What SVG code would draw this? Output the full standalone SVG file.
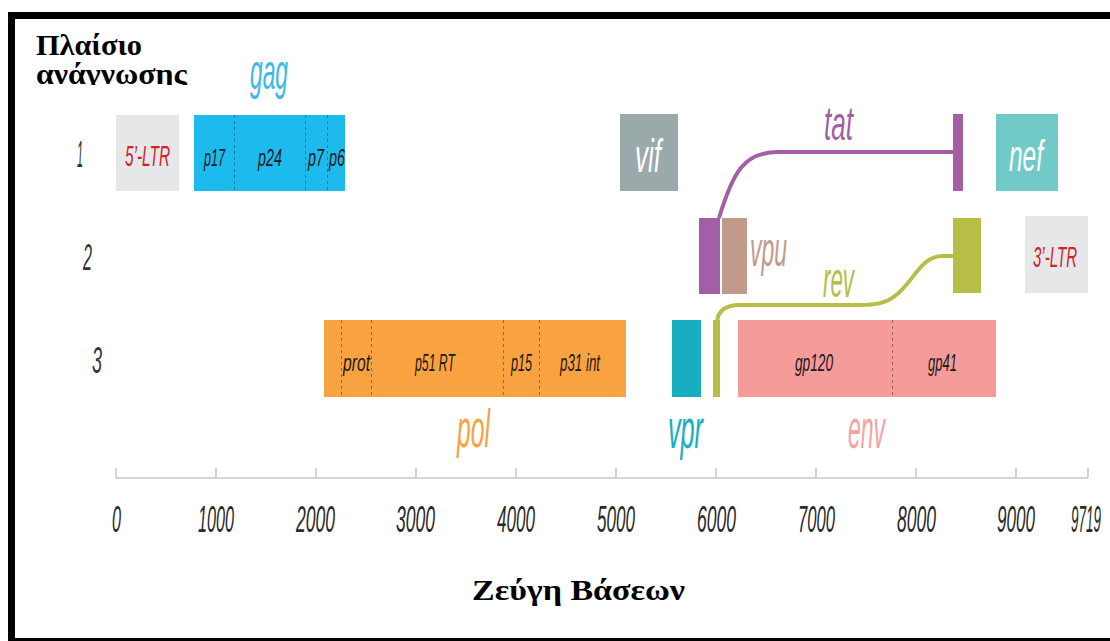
<svg xmlns="http://www.w3.org/2000/svg" width="1110" height="641" viewBox="0 0 1110 641">
<style>
.s{font-family:"Liberation Sans",Arial,sans-serif;font-style:italic}
.t{font-family:"Liberation Serif","Times New Roman",serif;font-weight:bold;fill:#000}
.tick{font-size:37px;fill:#2a2a2a}
.row{font-size:36px;fill:#333}
.sub{font-size:24px;fill:#1a1a1a}
.ltr{font-size:30px;fill:#d2232a}
.dash{stroke:#000;stroke-opacity:0.35;stroke-width:1;stroke-dasharray:3 3}
.ax{stroke:#c8c8c8;stroke-width:1.6;fill:none}
</style>
<defs>
<clipPath id="tc"><rect x="15" y="19" width="300" height="66"/></clipPath>
</defs>
<rect width="1110" height="641" fill="#fff"/>
<rect x="11.5" y="15.5" width="1110" height="626" fill="none" stroke="#000" stroke-width="7"/>
<g id="title" clip-path="url(#tc)">
<text class="t" x="36" y="55" font-size="30" textLength="106" lengthAdjust="spacingAndGlyphs">Πλαίσιο</text>
<text class="t" x="36" y="83.5" font-size="30" textLength="151" lengthAdjust="spacingAndGlyphs">ανάγνωσης</text>
</g>
<g id="rows" class="s row">
<text x="77" y="167" textLength="6" lengthAdjust="spacingAndGlyphs">1</text>
<text x="83" y="270" textLength="9" lengthAdjust="spacingAndGlyphs">2</text>
<text x="92" y="373" textLength="10" lengthAdjust="spacingAndGlyphs">3</text>
</g>
<g id="ltr5">
<rect x="116" y="115" width="63" height="76" fill="#e6e7e8"/>
<text class="s ltr" x="125" y="166" font-size="33" textLength="45" lengthAdjust="spacingAndGlyphs">5’-LTR</text>
</g>
<g id="gag">
<rect x="194" y="115" width="151" height="76" fill="#1dbaed"/>
<line class="dash" x1="234.5" y1="115" x2="234.5" y2="191"/>
<line class="dash" x1="305.5" y1="115" x2="305.5" y2="191"/>
<line class="dash" x1="327.5" y1="115" x2="327.5" y2="191"/>
<g class="s sub">
<text x="204" y="166" textLength="21" lengthAdjust="spacingAndGlyphs">p17</text>
<text x="258" y="166" textLength="24" lengthAdjust="spacingAndGlyphs">p24</text>
<text x="308" y="166" textLength="16" lengthAdjust="spacingAndGlyphs">p7</text>
<text x="329" y="166" textLength="16" lengthAdjust="spacingAndGlyphs">p6</text>
</g>
<text class="s" x="250" y="89" font-size="50" fill="#3bb9ea" textLength="38" lengthAdjust="spacingAndGlyphs">gag</text>
</g>
<g id="vif">
<rect x="620" y="114" width="58" height="77" fill="#9aa9aa"/>
<text class="s" x="635" y="172" font-size="46" fill="#fff" textLength="26" lengthAdjust="spacingAndGlyphs">vif</text>
</g>
<g id="nef">
<rect x="996" y="114" width="62" height="77" fill="#72cac8"/>
<text class="s" x="1009" y="171" font-size="44" fill="#fff" textLength="34" lengthAdjust="spacingAndGlyphs">nef</text>
</g>
<g id="tat">
<rect x="699" y="218" width="21" height="76" fill="#a35fa6"/>
<rect x="953" y="114" width="10" height="77" fill="#a35fa6"/>
<text class="s" x="824" y="140" font-size="48" fill="#a35fa6" textLength="29" lengthAdjust="spacingAndGlyphs">tat</text>
</g>
<g id="vpu">
<rect x="722" y="218" width="25" height="76" fill="#c29a8b"/>
<text class="s" x="750" y="266" font-size="48" fill="#c29a8b" textLength="37" lengthAdjust="spacingAndGlyphs">vpu</text>
</g>
<g id="rev">
<rect x="953" y="218" width="28" height="75" fill="#b6be45"/>
<rect x="713" y="320" width="7" height="77" fill="#b6be45"/>
<text class="s" x="823" y="297" font-size="50" fill="#b6be45" textLength="31" lengthAdjust="spacingAndGlyphs">rev</text>
</g>
<g id="ltr3">
<rect x="1025" y="216" width="63" height="77" fill="#e6e7e8"/>
<text class="s ltr" x="1033" y="267" textLength="44" lengthAdjust="spacingAndGlyphs">3’-LTR</text>
</g>
<g id="pol">
<rect x="324" y="320" width="302" height="77" fill="#f9a241"/>
<line class="dash" x1="341.5" y1="320" x2="341.5" y2="397"/>
<line class="dash" x1="371.5" y1="320" x2="371.5" y2="397"/>
<line class="dash" x1="503.5" y1="320" x2="503.5" y2="397"/>
<line class="dash" x1="539.5" y1="320" x2="539.5" y2="397"/>
<g class="s sub">
<text x="343" y="371" textLength="27" lengthAdjust="spacingAndGlyphs">prot</text>
<text x="415" y="371" textLength="40" lengthAdjust="spacingAndGlyphs">p51 RT</text>
<text x="511" y="371" textLength="21" lengthAdjust="spacingAndGlyphs">p15</text>
<text x="560" y="371" textLength="40" lengthAdjust="spacingAndGlyphs">p31 int</text>
</g>
<text class="s" x="457" y="447" font-size="54" fill="#f9a241" textLength="33" lengthAdjust="spacingAndGlyphs">pol</text>
</g>
<g id="vpr">
<rect x="672" y="320" width="29" height="77" fill="#15afbf"/>
<text class="s" x="668" y="448" font-size="56" fill="#15afbf" textLength="35" lengthAdjust="spacingAndGlyphs">vpr</text>
</g>
<g id="env">
<rect x="738" y="320" width="258" height="77" fill="#f59c9a"/>
<line class="dash" x1="892.5" y1="320" x2="892.5" y2="397"/>
<g class="s sub">
<text x="795" y="371" textLength="38" lengthAdjust="spacingAndGlyphs">gp120</text>
<text x="928" y="371" textLength="29" lengthAdjust="spacingAndGlyphs">gp41</text>
</g>
<text class="s" x="848" y="448" font-size="56" fill="#f5a3a2" textLength="37" lengthAdjust="spacingAndGlyphs">env</text>
</g>
<g id="connectors" fill="none" stroke-width="4">
<path d="M719 218 C733 172 744 152 778 152 H955" stroke="#a35fa6"/>
<path d="M955 256 H943 C920 256 914 282 895 296 C886 303 876 305 860 305 H740 C726 305 718 310 717 322" stroke="#b6be45"/>
</g>
<g id="axis">
<path class="ax" d="M116 478 H1088 M116 468 V478 M216 468 V478 M316 468 V478 M416 468 V478 M516 468 V478 M616 468 V478 M716 468 V478 M816 468 V478 M916 468 V478 M1016 468 V478 M1088 468 V478"/>
<g class="s tick">
<text x="112" y="532" textLength="9" lengthAdjust="spacingAndGlyphs">0</text>
<text x="198" y="532" textLength="36" lengthAdjust="spacingAndGlyphs">1000</text>
<text x="296" y="532" textLength="39" lengthAdjust="spacingAndGlyphs">2000</text>
<text x="396" y="532" textLength="39" lengthAdjust="spacingAndGlyphs">3000</text>
<text x="497" y="532" textLength="38" lengthAdjust="spacingAndGlyphs">4000</text>
<text x="597" y="532" textLength="38" lengthAdjust="spacingAndGlyphs">5000</text>
<text x="697" y="532" textLength="39" lengthAdjust="spacingAndGlyphs">6000</text>
<text x="798" y="532" textLength="37" lengthAdjust="spacingAndGlyphs">7000</text>
<text x="897" y="532" textLength="39" lengthAdjust="spacingAndGlyphs">8000</text>
<text x="997" y="532" textLength="38" lengthAdjust="spacingAndGlyphs">9000</text>
<text x="1071" y="532" textLength="30" lengthAdjust="spacingAndGlyphs">9719</text>
</g>
<text class="t" x="472" y="600" font-size="29" textLength="213" lengthAdjust="spacingAndGlyphs">Ζεύγη Βάσεων</text>
</g>
</svg>
